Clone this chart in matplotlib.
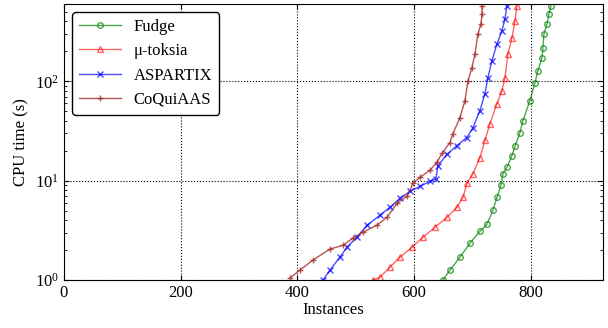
# cactus plot: CPU time vs solved instances
import matplotlib
matplotlib.use('Agg')
import matplotlib.pyplot as plt

plt.rcParams['font.family'] = ['Liberation Serif', 'DejaVu Serif']
plt.rcParams['mathtext.fontset'] = 'stix'

# data (instances solved, cpu time in s)
fudge_x = [649.5, 661.5, 678.7, 695.8, 712.9, 724.9, 735.2, 742.1, 748.9, 752.4, 759.2,
           767.8, 772.9, 781.5, 786.6, 798.6, 807.2, 812.3, 819.2, 820.9, 822.6, 827.8,
           831.2, 834.6]
fudge_y = [1.0, 1.26, 1.70, 2.35, 3.10, 3.64, 5.04, 6.80, 8.97, 11.8, 13.6,
           17.9, 22.1, 30.5, 40.3, 63.9, 96.9, 128, 172, 217, 300, 378,
           476, 573]

toksia_x = [529.6, 541.6, 558.7, 575.8, 596.4, 615.3, 635.8, 656.4, 673.5, 683.8, 690.7,
            701.0, 712.9, 721.5, 730.1, 742.1, 750.6, 755.8, 760.9, 767.8, 772.9, 776.3]
toksia_y = [1.0, 1.07, 1.35, 1.70, 2.14, 2.70, 3.40, 4.28, 5.40, 6.80, 9.40,
            11.8, 17.1, 25.4, 37.6, 59.6, 80.5, 109, 189, 274, 405, 573]

aspartix_x = [443.9, 455.9, 473.0, 485.0, 502.1, 519.3, 541.6, 558.7, 575.8, 593.0, 610.1,
              627.2, 637.5, 641.0, 656.4, 673.5, 690.7, 701.0, 712.9, 721.5, 726.6, 733.5,
              742.1, 750.6, 755.8, 759.2]
aspartix_y = [1.0, 1.26, 1.70, 2.14, 2.70, 3.56, 4.49, 5.40, 6.65, 7.80, 8.77,
              9.84, 10.5, 14.2, 18.4, 22.6, 27.2, 34.2, 50.7, 75.1, 109, 161,
              238, 322, 425, 573]

coquiaas_x = [387.3, 404.5, 426.7, 455.9, 478.1, 495.3, 512.4, 536.4, 553.6, 570.7, 587.8,
              598.1, 610.1, 627.2, 639.2, 647.8, 661.5, 666.7, 678.7, 687.2, 692.4, 699.2,
              704.4, 709.5, 714.7, 716.4, 716.4]
coquiaas_y = [1.05, 1.26, 1.59, 2.05, 2.24, 2.64, 3.03, 3.56, 4.28, 5.92, 6.96,
              9.40, 10.8, 12.7, 15.3, 18.8, 24.2, 29.8, 43.1, 63.9, 101, 137,
              189, 300, 378, 476, 573]

fig = plt.figure(figsize=(6.08, 3.28), dpi=100)
ax = fig.add_axes([0.105, 0.146, 0.887, 0.842])

ax.plot(fudge_x, fudge_y, color='green', marker='o', mfc='none', ms=4, lw=1, alpha=0.7, label='Fudge')
ax.plot(toksia_x, toksia_y, color='red', marker='^', mfc='none', ms=4, lw=1, alpha=0.6, label='\u03bc-toksia')
ax.plot(aspartix_x, aspartix_y, color='blue', marker='x', ms=4, lw=1, alpha=0.7, label='ASPARTIX')
ax.plot(coquiaas_x, coquiaas_y, color='brown', marker='+', ms=5, lw=1, alpha=0.8, label='CoQuiAAS')

ax.set_yscale('log')
ax.set_xlim(0, 924)
ax.set_ylim(1, 600)
ax.set_xticks([0, 200, 400, 600, 800])
ax.grid(True, which='major', color='black', linestyle=':', linewidth=0.8)
ax.tick_params(which='both', direction='in', top=True, right=True, labelsize=12)
ax.set_xlabel('Instances', fontsize=12, labelpad=1)
ax.set_ylabel('CPU time (s)', fontsize=12)

leg = ax.legend(loc='upper left', fontsize=12, fancybox=True, framealpha=1, handlelength=2.5)
leg.get_frame().set_edgecolor('black')

fig.savefig('out.png', dpi=100)
